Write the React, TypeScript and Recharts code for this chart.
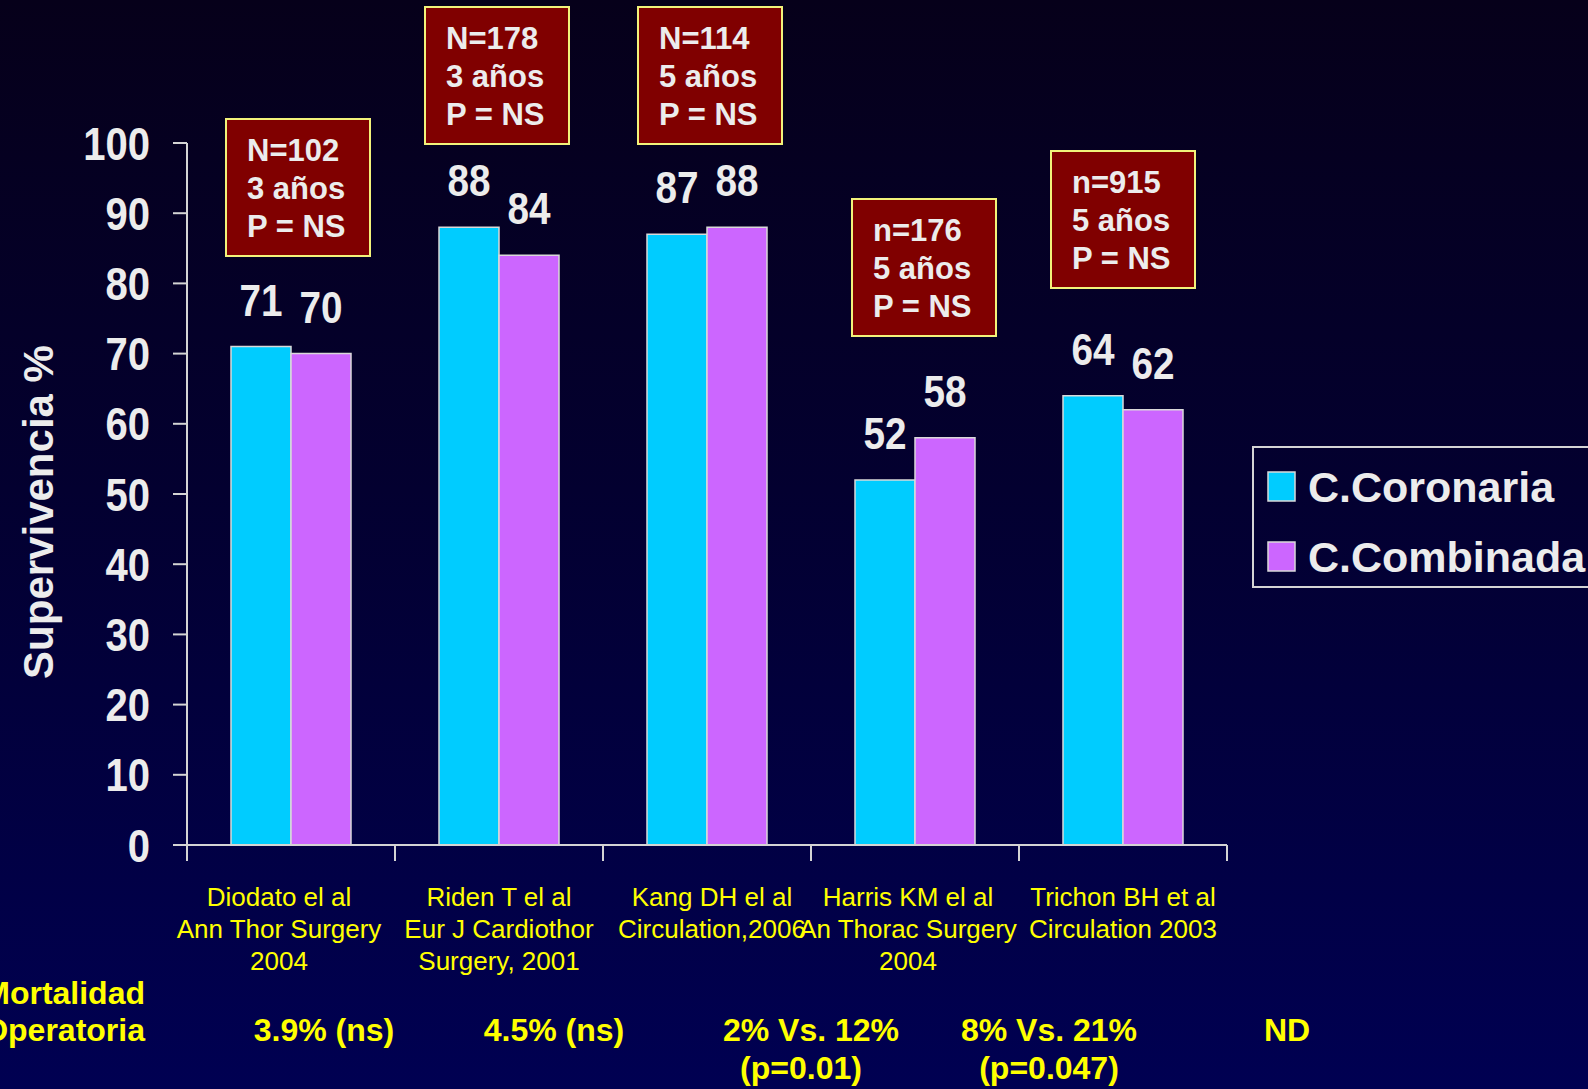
import { BarChart, Bar, XAxis, YAxis, LabelList } from 'recharts'

// survival (%) per study, coronary-only vs combined surgery
const authors = ['Diodato el al', 'Riden T el al', 'Kang DH el al', 'Harris KM el al', 'Trichon BH et al']
const journals = ['Ann Thor Surgery', 'Eur J Cardiothor', 'Circulation,2006', 'An Thorac Surgery', 'Circulation 2003']
const years = ['2004', 'Surgery, 2001', '', '2004', '']
const coronaria = [71, 88, 87, 52, 64]
const combinada = [70, 84, 88, 58, 62]
const sampleSize = ['N=102', 'N=178', 'N=114', 'n=176', 'n=915']
const followUp = ['3 años', '3 años', '5 años', '5 años', '5 años']
const pValues = ['P = NS', 'P = NS', 'P = NS', 'P = NS', 'P = NS']
const mortality = ['3.9% (ns)', '4.5% (ns)', '2% Vs. 12%', '8% Vs. 21%', 'ND']
const mortalityP = ['', '', '(p=0.01)', '(p=0.047)', '']
const yTicks = [0, 10, 20, 30, 40, 50, 60, 70, 80, 90, 100]
const seriesNames = ['C.Coronaria', 'C.Combinada']

const data = authors.map((a, i) => ({
  study: a,
  coronaria: coronaria[i],
  combinada: combinada[i],
  n: sampleSize[i],
}))

const W = 1588
const H = 1089
const PLOT_LEFT = 187
const PLOT_RIGHT = 1227
const PLOT_TOP = 143
const PLOT_BOTTOM = 845
const BAND = (PLOT_RIGHT - PLOT_LEFT) / authors.length

const CYAN = '#00ccff'
const PURPLE = '#cc66ff'
const WHITE = '#ececec'
const YELLOW = '#ffff00'
const AXIS = '#d4d4d4'
const FONT = '"Liberation Sans", Arial, sans-serif'

// annotation box placement (px)
const boxTop = [119, 7, 7, 199, 151]
const boxShift = [7, -2, 3, 9, 0]
const labelShift = [-12, 0, 5, -7, 0]
const mortX = [324, 554, 811, 1049, 1287]
const mortPX = [324, 554, 801, 1049, 1287]

const YTick = (props: any) => {
  const { x, y, payload } = props
  return (
    <g transform={`translate(${x},${y}) scale(0.87,1)`}>
      <text x={0} y={0} dy="0.36em" textAnchor="end" fill={WHITE} fontSize={46} fontWeight="bold" fontFamily={FONT}>
        {payload.value}
      </text>
    </g>
  )
}

const XTick = (props: any) => {
  const { payload } = props
  const i = payload.index
  const cx = payload.coordinate
  const tx = cx + labelShift[i]
  const left = cx - BAND / 2
  const lines = [authors[i], journals[i], years[i]]
  return (
    <g>
      <line x1={left} y1={PLOT_BOTTOM} x2={left} y2={PLOT_BOTTOM + 16} stroke={AXIS} strokeWidth={2} />
      {i === authors.length - 1 && (
        <line x1={left + BAND} y1={PLOT_BOTTOM} x2={left + BAND} y2={PLOT_BOTTOM + 16} stroke={AXIS} strokeWidth={2} />
      )}
      {lines.map((t, k) => (
        <text key={k} x={tx} y={PLOT_BOTTOM + 61 + k * 32} textAnchor="middle" fill={YELLOW} fontSize={26} fontFamily={FONT}>
          {t}
        </text>
      ))}
    </g>
  )
}

const ValueLabel = (props: any) => {
  const { x, y, width, value } = props
  const cx = Number(x) + Number(width) / 2
  return (
    <g transform={`translate(${cx},${Number(y) - 31}) scale(0.86,1)`}>
      <text x={0} y={0} textAnchor="middle" fill={WHITE} fontSize={45} fontWeight="bold" fontFamily={FONT}>
        {value}
      </text>
    </g>
  )
}

const InfoBox = (props: any) => {
  const { x, width, value } = props
  let i = props.index
  if (i === undefined) i = sampleSize.indexOf(value)
  const cx = Number(x) + Number(width) + boxShift[i]
  const left = cx - 72
  const top = boxTop[i]
  const lines = [sampleSize[i], followUp[i], pValues[i]]
  return (
    <g>
      <rect x={left} y={top} width={144} height={137} fill="#800000" stroke="#f2f27a" strokeWidth={2} />
      {lines.map((t, k) => (
        <text key={k} x={left + 21} y={top + 42 + k * 38} fill={WHITE} fontSize={31} fontWeight="bold" fontFamily={FONT}>
          {t}
        </text>
      ))}
    </g>
  )
}

export default function App() {
  return (
    <div
      style={{
        position: 'absolute',
        left: 0,
        top: 0,
        width: W,
        height: H,
        overflow: 'hidden',
        background: 'linear-gradient(to bottom, #06001a 0%, #030030 45%, #000052 100%)',
      }}
    >
      <BarChart
        width={W}
        height={H}
        data={data}
        margin={{ top: PLOT_TOP, right: W - PLOT_RIGHT, bottom: H - PLOT_BOTTOM - 200, left: 0 }}
        barGap={0}
        barSize={60}
      >
        <XAxis
          dataKey="study"
          height={200}
          interval={0}
          tickLine={false}
          axisLine={{ stroke: AXIS, strokeWidth: 2 }}
          tick={<XTick />}
        />
        <YAxis
          width={PLOT_LEFT}
          domain={[0, 100]}
          ticks={yTicks}
          interval={0}
          tickSize={14}
          tickMargin={23}
          tickLine={{ stroke: AXIS, strokeWidth: 2 }}
          axisLine={{ stroke: AXIS, strokeWidth: 2 }}
          tick={<YTick />}
        />
        <Bar dataKey="coronaria" name={seriesNames[0]} fill={CYAN} stroke="#d9d9d9" strokeWidth={1.5} isAnimationActive={false}>
          <LabelList dataKey="coronaria" content={<ValueLabel />} />
          <LabelList dataKey="n" content={<InfoBox />} />
        </Bar>
        <Bar dataKey="combinada" name={seriesNames[1]} fill={PURPLE} stroke="#d9d9d9" strokeWidth={1.5} isAnimationActive={false}>
          <LabelList dataKey="combinada" content={<ValueLabel />} />
        </Bar>
      </BarChart>

      <svg width={W} height={H} style={{ position: 'absolute', left: 0, top: 0, pointerEvents: 'none' }}>
        <text
          x={53}
          y={512}
          transform="rotate(-90 53 512)"
          textAnchor="middle"
          fill={WHITE}
          fontSize={42}
          fontWeight="bold"
          fontFamily={FONT}
        >
          Supervivencia %
        </text>

        {/* legend */}
        <rect x={1253} y={447} width={345} height={140} fill="none" stroke={AXIS} strokeWidth={2} />
        {seriesNames.map((s, i) => (
          <g key={s}>
            <rect x={1268} y={472 + i * 70} width={27} height={29} fill={i === 0 ? CYAN : PURPLE} stroke="#d9d9d9" strokeWidth={1.5} />
            <text x={1308} y={502 + i * 70} fill={WHITE} fontSize={43} fontWeight="bold" fontFamily={FONT}>
              {s}
            </text>
          </g>
        ))}

        {/* operative mortality row */}
        <text x={145} y={1004} textAnchor="end" fill={YELLOW} fontSize={32} fontWeight="bold" fontFamily={FONT}>
          Mortalidad
        </text>
        <text x={145} y={1041} textAnchor="end" fill={YELLOW} fontSize={32} fontWeight="bold" fontFamily={FONT}>
          Operatoria
        </text>
        {mortality.map((m, i) => (
          <text key={'m' + i} x={mortX[i]} y={1041} textAnchor="middle" fill={YELLOW} fontSize={32} fontWeight="bold" fontFamily={FONT}>
            {m}
          </text>
        ))}
        {mortalityP.map((m, i) =>
          m ? (
            <text key={'p' + i} x={mortPX[i]} y={1079} textAnchor="middle" fill={YELLOW} fontSize={32} fontWeight="bold" fontFamily={FONT}>
              {m}
            </text>
          ) : null
        )}
      </svg>
    </div>
  )
}
